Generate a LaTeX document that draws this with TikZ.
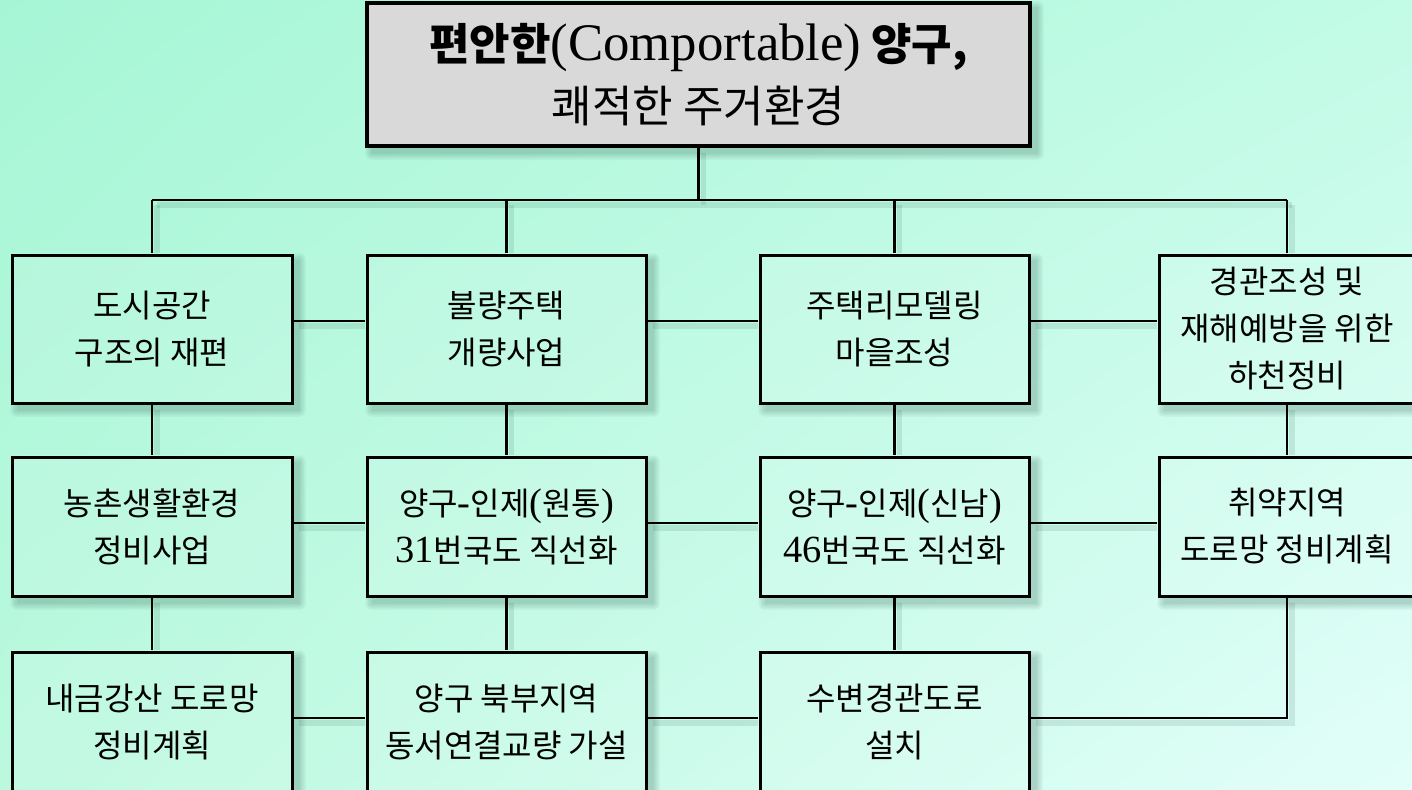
\documentclass[tikz,border=0pt]{standalone}
\usepackage{fontspec}
\setmainfont{Liberation Serif}
\newfontfamily\kr{Noto Sans CJK KR}
\newfontfamily\lat{Liberation Serif}[Scale=1.2]
\usetikzlibrary{calc,shadings}
\pgfdeclarelayer{lzero}\pgfdeclarelayer{lone}\pgfdeclarelayer{ltwo}
\pgfsetlayers{lzero,lone,ltwo,main}
\definecolor{bgUL}{HTML}{A6F6D6}
\definecolor{bgUR}{HTML}{C2FBE6}
\definecolor{bgLL}{HTML}{BBF9DF}
\definecolor{bgLR}{HTML}{E2FEF9}
\definecolor{topgray}{HTML}{D9D9D9}
\definecolor{shadowc}{HTML}{2F5F50}
\tikzset{
  box/.style={draw=black, line width=1.5pt, inner sep=0pt, align=center,
    font=\kr\fontsize{16pt}{23.5pt}\selectfont},
  titlebox/.style={draw=black, line width=1.6pt, inner sep=0pt, align=center,
    font=\kr\fontsize{22pt}{31pt}\selectfont},
  conn/.style={draw=black, line width=1.4pt,
    preaction={draw=shadowc, line width=2.8pt, opacity=.13,
      transform canvas={shift={(2.5pt,-2.5pt)}}}},
  bgshade/.style={upper left=bgUL, upper right=bgUR, lower left=bgLL, lower right=bgLR},
  shadowpiece/.style={fill=shadowc, opacity=.07}
}
\begin{document}
\begin{tikzpicture}[x=0.5pt,y=-0.5pt]
\useasboundingbox (0,0) rectangle (1412,789);

% nodes
\node[titlebox, minimum width=331.5pt, minimum height=71.5pt] (top) at (698.5,74.5)
  {{\bfseries 편안한}{\lat (Comportable)} {\bfseries 양구,}\\쾌적한 주거환경};

\node[box, minimum width=140pt,   minimum height=74pt] (r1a) at (152,329)   {도시공간\\구조의 재편};
\node[box, minimum width=139.5pt, minimum height=74pt] (r1b) at (506.5,329) {불량주택\\개량사업};
\node[box, minimum width=134.5pt, minimum height=74pt] (r1c) at (894.5,329) {주택리모델링\\마을조성};
\node[box, minimum width=128pt,   minimum height=74pt] (r1d) at (1287,329)  {경관조성 및\\재해예방을 위한\\하천정비};

\node[box, minimum width=140pt,   minimum height=69.5pt] (r2a) at (152,526.5)   {농촌생활환경\\정비사업};
\node[box, minimum width=139.5pt, minimum height=69.5pt] (r2b) at (506.5,526.5) {양구{\lat -}인제{\lat (}원통{\lat )}\\{\lat 31}번국도 직선화};
\node[box, minimum width=134.5pt, minimum height=69.5pt] (r2c) at (894.5,526.5) {양구{\lat -}인제{\lat (}신남{\lat )}\\{\lat 46}번국도 직선화};
\node[box, minimum width=128pt,   minimum height=69.5pt] (r2d) at (1287,526.5)  {취약지역\\도로망 정비계획};

\node[box, minimum width=140pt,   minimum height=70pt] (r3a) at (152,722)   {내금강산 도로망\\정비계획};
\node[box, minimum width=139.5pt, minimum height=70pt] (r3b) at (506.5,722) {양구 북부지역\\동서연결교량 가설};
\node[box, minimum width=134.5pt, minimum height=70pt] (r3c) at (894.5,722) {수변경관도로\\설치};

\coordinate (bus) at (700,200);

% background
\begin{pgfonlayer}{lzero}
  \shade[bgshade] (0,0) rectangle (1412,789);
\end{pgfonlayer}

% shadows and connectors
\begin{pgfonlayer}{lone}
  \foreach \n in {top,r1a,r1b,r1c,r1d,r2a,r2b,r2c,r2d,r3a,r3b,r3c}{
    \foreach \k in {0,2,4,6}{
      \fill[shadowpiece, rounded corners=\k*0.5pt]
        ($(\n.south west)+(6-\k,6+\k)$) rectangle ($(\n.north east)+(6+\k,6-\k)$);
    }
  }
  \draw[conn] (top.south) -- (top.south |- bus);
  \draw[conn] (r1a.north |- bus) -- (r1d.north |- bus);
  \foreach \n in {r1a,r1b,r1c,r1d}{
    \draw[conn] (\n.north |- bus) -- (\n.north);
  }
  \draw[conn] ($(r1a.east)+(0,-8)$) -- ($(r1b.west)+(0,-8)$);
  \draw[conn] ($(r1b.east)+(0,-8)$) -- ($(r1c.west)+(0,-8)$);
  \draw[conn] ($(r1c.east)+(0,-8)$) -- ($(r1d.west)+(0,-8)$);
  \draw[conn] (r1a.south) -- (r2a.north);
  \draw[conn] (r1b.south) -- (r2b.north);
  \draw[conn] (r1c.south) -- (r2c.north);
  \draw[conn] (r1d.south) -- (r2d.north);
  \draw[conn] ($(r2a.east)+(0,-3.5)$) -- ($(r2b.west)+(0,-3.5)$);
  \draw[conn] ($(r2b.east)+(0,-3.5)$) -- ($(r2c.west)+(0,-3.5)$);
  \draw[conn] ($(r2c.east)+(0,-3.5)$) -- ($(r2d.west)+(0,-3.5)$);
  \draw[conn] (r2a.south) -- (r3a.north);
  \draw[conn] (r2b.south) -- (r3b.north);
  \draw[conn] (r2c.south) -- (r3c.north);
  \draw[conn] (r2d.south) |- ($(r3c.east)+(0,-4)$);
  \draw[conn] ($(r3a.east)+(0,-4)$) -- ($(r3b.west)+(0,-4)$);
  \draw[conn] ($(r3b.east)+(0,-4)$) -- ($(r3c.west)+(0,-4)$);
\end{pgfonlayer}

% box fills
\begin{pgfonlayer}{ltwo}
  \fill[topgray] (top.south west) rectangle (top.north east);
  \foreach \n in {r1a,r1b,r1c,r1d,r2a,r2b,r2c,r2d,r3a,r3b,r3c}{
    \begin{scope}
      \clip (\n.south west) rectangle (\n.north east);
      \shade[bgshade] (0,0) rectangle (1412,789);
      \fill[white, opacity=.1] (0,0) rectangle (1412,789);
    \end{scope}
  }
\end{pgfonlayer}
\end{tikzpicture}
\end{document}
